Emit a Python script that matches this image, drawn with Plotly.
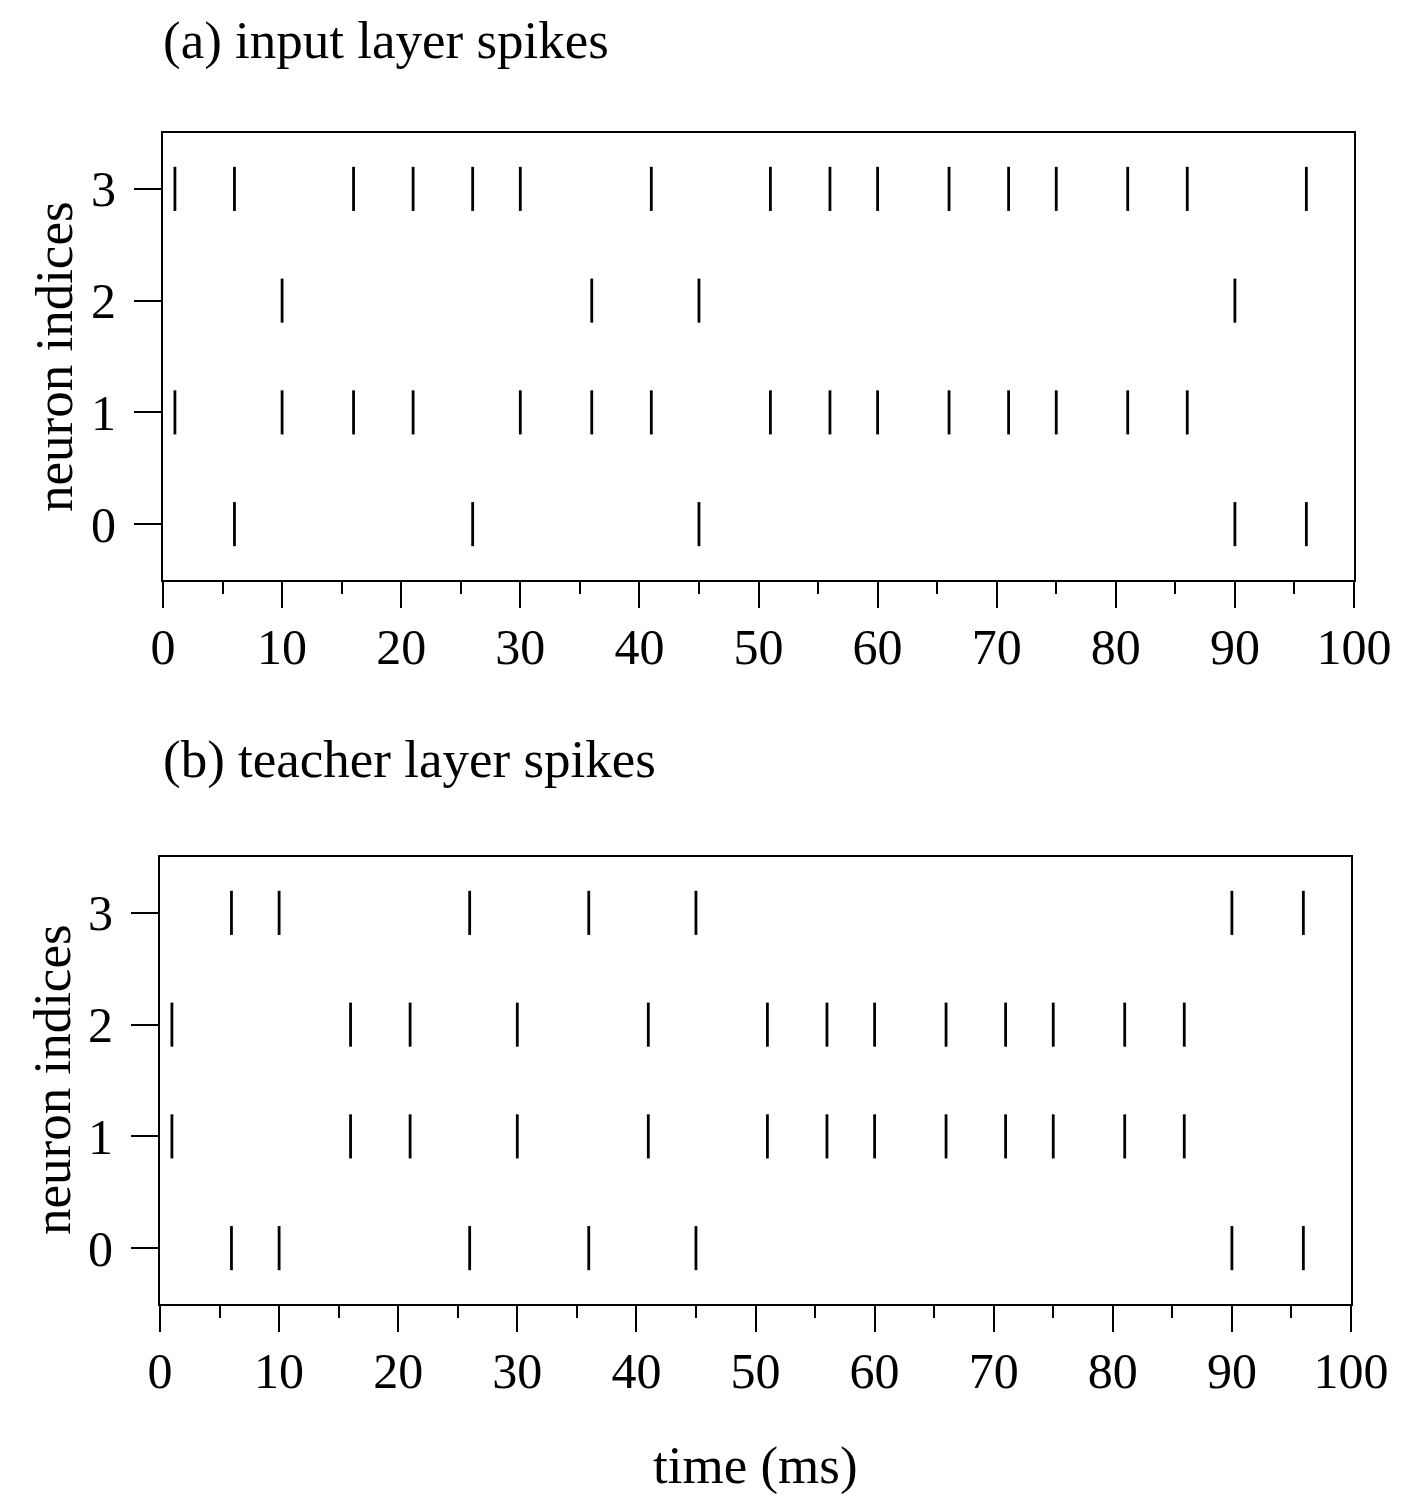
import plotly.graph_objects as go

# spike times (ms) per neuron index
input_spikes = {
    0: [6, 26, 45, 90, 96],
    1: [1, 10, 16, 21, 30, 36, 41, 51, 56, 60, 66, 71, 75, 81, 86],
    2: [10, 36, 45, 90],
    3: [1, 6, 16, 21, 26, 30, 41, 51, 56, 60, 66, 71, 75, 81, 86, 96],
}
teacher_spikes = {
    0: [6, 10, 26, 36, 45, 90, 96],
    1: [1, 16, 21, 30, 41, 51, 56, 60, 66, 71, 75, 81, 86],
    2: [1, 16, 21, 30, 41, 51, 56, 60, 66, 71, 75, 81, 86],
    3: [6, 10, 26, 36, 45, 90, 96],
}
neuron_ticks = [0, 1, 2, 3]
time_ticks = [0, 10, 20, 30, 40, 50, 60, 70, 80, 90, 100]

W, H = 1418, 1510
OFF = 8  # page body margin
FONT = "Liberation Serif"
FS_TICK = 50
FS_TEXT = 53


def px(v):
    return (v - OFF) / W


def py(v):
    return 1 - (v - OFF) / H


fig = go.Figure()


def add_raster(spikes, xa, ya):
    xs, ys = [], []
    for n, times in spikes.items():
        xs += times
        ys += [n] * len(times)
    # line-ns symbol is drawn 1.4x the marker size
    fig.add_trace(go.Scatter(
        x=xs, y=ys, xaxis=xa, yaxis=ya, mode="markers",
        marker=dict(symbol="line-ns", size=31.5,
                    line=dict(color="black", width=2.8)),
        showlegend=False, hoverinfo="x+y"))


add_raster(input_spikes, "x", "y")
add_raster(teacher_spikes, "x2", "y2")

xcommon = dict(range=[0, 100], tickvals=time_ticks, ticks="outside", ticklen=26,
               tickwidth=2, tickcolor="black", showline=True, linewidth=2,
               linecolor="black", mirror=True, showgrid=False, zeroline=False,
               automargin=False, ticklabelstandoff=-4,
               minor=dict(dtick=5, tick0=0, ticks="outside", ticklen=12,
                          tickwidth=2, tickcolor="black", showgrid=False),
               tickfont=dict(family=FONT, size=FS_TICK, color="black"))
ycommon = dict(range=[-0.5, 3.5], tickvals=neuron_ticks, ticks="outside", ticklen=27,
               tickwidth=2, tickcolor="black", showline=True, linewidth=2,
               linecolor="black", mirror=True, showgrid=False, zeroline=False,
               automargin=False, ticklabelstandoff=8,
               tickfont=dict(family=FONT, size=FS_TICK, color="black"))

fig.update_layout(
    width=W, height=H, margin=dict(l=0, r=0, t=0, b=0, autoexpand=False),
    template="none",
    plot_bgcolor="white", paper_bgcolor="white",
    xaxis=dict(domain=[px(163), px(1354)], anchor="y", **xcommon),
    yaxis=dict(domain=[py(580), py(133)], anchor="x", **ycommon),
    xaxis2=dict(domain=[px(160), px(1351)], anchor="y2", **xcommon),
    yaxis2=dict(domain=[py(1304), py(857)], anchor="x2", **ycommon),
)

ann_font = dict(family=FONT, size=FS_TEXT, color="black")
fig.add_annotation(text="(a) input layer spikes", x=px(161), y=py(40),
                   xref="paper", yref="paper", xanchor="left", yanchor="middle",
                   showarrow=False, font=ann_font)
fig.add_annotation(text="(b) teacher layer spikes", x=px(161), y=py(760),
                   xref="paper", yref="paper", xanchor="left", yanchor="middle",
                   showarrow=False, font=ann_font)
fig.add_annotation(text="time (ms)", x=px(756), y=py(1465),
                   xref="paper", yref="paper", xanchor="center", yanchor="middle",
                   showarrow=False, font=ann_font)
fig.add_annotation(text="neuron indices", x=px(54), y=py(357), textangle=-90,
                   xref="paper", yref="paper", xanchor="center", yanchor="middle",
                   showarrow=False, font=ann_font)
fig.add_annotation(text="neuron indices", x=px(52), y=py(1080), textangle=-90,
                   xref="paper", yref="paper", xanchor="center", yanchor="middle",
                   showarrow=False, font=ann_font)

fig.write_html("out.html")
